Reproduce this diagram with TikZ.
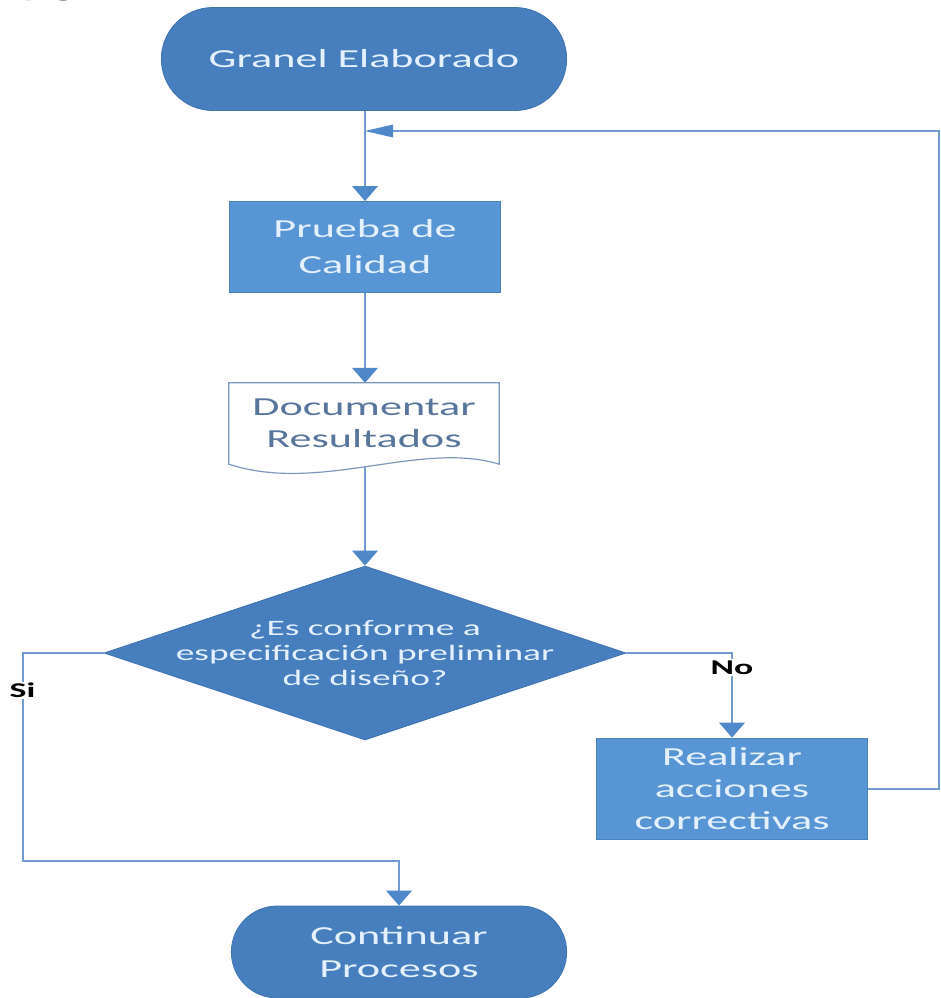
\documentclass[tikz,border=0pt]{standalone}
\usepackage{fontspec}
\setmainfont{Carlito}[FakeStretch=1.7]
\usetikzlibrary{arrows.meta,shapes.geometric,shapes.misc}

\definecolor{termblue}{RGB}{70,126,190}
\definecolor{procblue}{RGB}{88,149,212}
\definecolor{linkblue}{RGB}{112,156,208}
\definecolor{tipblue}{RGB}{78,136,200}
\definecolor{docline}{RGB}{125,152,188}
\definecolor{doctext}{RGB}{88,118,156}
\definecolor{paletext}{RGB}{228,240,252}

\tikzset{
  boxfont/.style={font=\fontsize{26}{34}\selectfont},
  terminal/.style={rounded rectangle, fill=termblue, draw=termblue!92!black,
    line width=0.8pt, text=paletext, align=center, boxfont},
  process/.style={rectangle, fill=procblue, draw=procblue!88!black,
    line width=0.8pt, text=paletext, align=center, boxfont,
    minimum width=271pt},
  decision/.style={diamond, fill=termblue, draw=termblue!92!black,
    line width=0.8pt, inner sep=0pt, minimum width=522pt, minimum height=174pt},
  dectext/.style={text=paletext, align=center,
    font=\fontsize{22}{25}\selectfont},
  docnode/.style={minimum width=270pt, minimum height=80pt, inner sep=0pt,
    text=doctext, align=center, font=\fontsize{26}{32}\selectfont},
  branchlbl/.style={fill=white, inner sep=1.5pt, text=black,
    font=\fontsize{21}{22}\selectfont\bfseries},
  flow/.style={draw=linkblue, line width=2pt,
    -{Triangle[length=15pt, width=26pt, fill=tipblue, line width=0pt]}},
  flowh/.style={draw=linkblue, line width=2pt,
    -{Triangle[length=28pt, width=13pt, fill=tipblue, line width=0pt]}},
}

\begin{document}
\begin{tikzpicture}[x=1pt, y=-1pt]
  \useasboundingbox[fill=white] (0,0) rectangle (940,998);

  % heading fragment along the top edge
  \node[anchor=base west, inner sep=0pt, text=black,
        font=\fontsize{26}{30}\selectfont\bfseries] (head) at (22,-3) {y g};

  % nodes
  \node[terminal, minimum width=412pt, minimum height=103pt] (start) at (364,59) {Granel Elaborado};
  \node[process, minimum height=91pt] (prueba) at (365,247) {Prueba de\\[2pt]Calidad};
  \node[docnode] (doc) at (364,423) {Documentar\\Resultados};
  \node[decision] (dec) at (365,653) {};
  \node[dectext] (dect) at (dec.center) {¿Es conforme a\\especificación preliminar\\de diseño?};
  \node[process, minimum height=101pt, font=\fontsize{26}{32}\selectfont] (acc) at (732,788.5) {Realizar\\acciones\\correctivas};
  \node[terminal, minimum width=342pt, minimum height=92pt, font=\fontsize{26}{33}\selectfont] (cont) at (399,952) {Continuar\\Procesos};

  % routing points
  \coordinate (merge) at (365,131);
  \coordinate (rail) at (938.5,131);
  \coordinate (siturn) at (22.5,861);

  % connectors
  \draw[flow] (start.south -| merge) -- (prueba.north -| merge);
  \draw[flow] (prueba.south -| merge) -- (doc.north -| merge);
  \draw[flow] (doc.south -| merge) -- (dec.north);
  \draw[flow] (dec.east) -| node[branchlbl, pos=0.585] (no) {No} (acc.north);
  \draw[flow] (dec.west) -| node[branchlbl, pos=0.59] (si) {Si} (siturn) -| (cont.north);
  \draw[flowh] (acc.east) -| (rail) -- (merge);

  % document symbol with a wavy lower edge
  \fill[white] (doc.north west) -- (doc.north east) -- ([yshift=-1pt]doc.south east)
    .. controls (420,440) and (320,494) .. ([yshift=-1pt]doc.south west) -- cycle;
  \draw[docline, line width=1.2pt] (doc.north west) -- (doc.north east) -- ([yshift=-1pt]doc.south east)
    .. controls (420,440) and (320,494) .. ([yshift=-1pt]doc.south west) -- cycle;
  \node[docnode] at (doc.center) {Documentar\\Resultados};
\end{tikzpicture}
\end{document}
